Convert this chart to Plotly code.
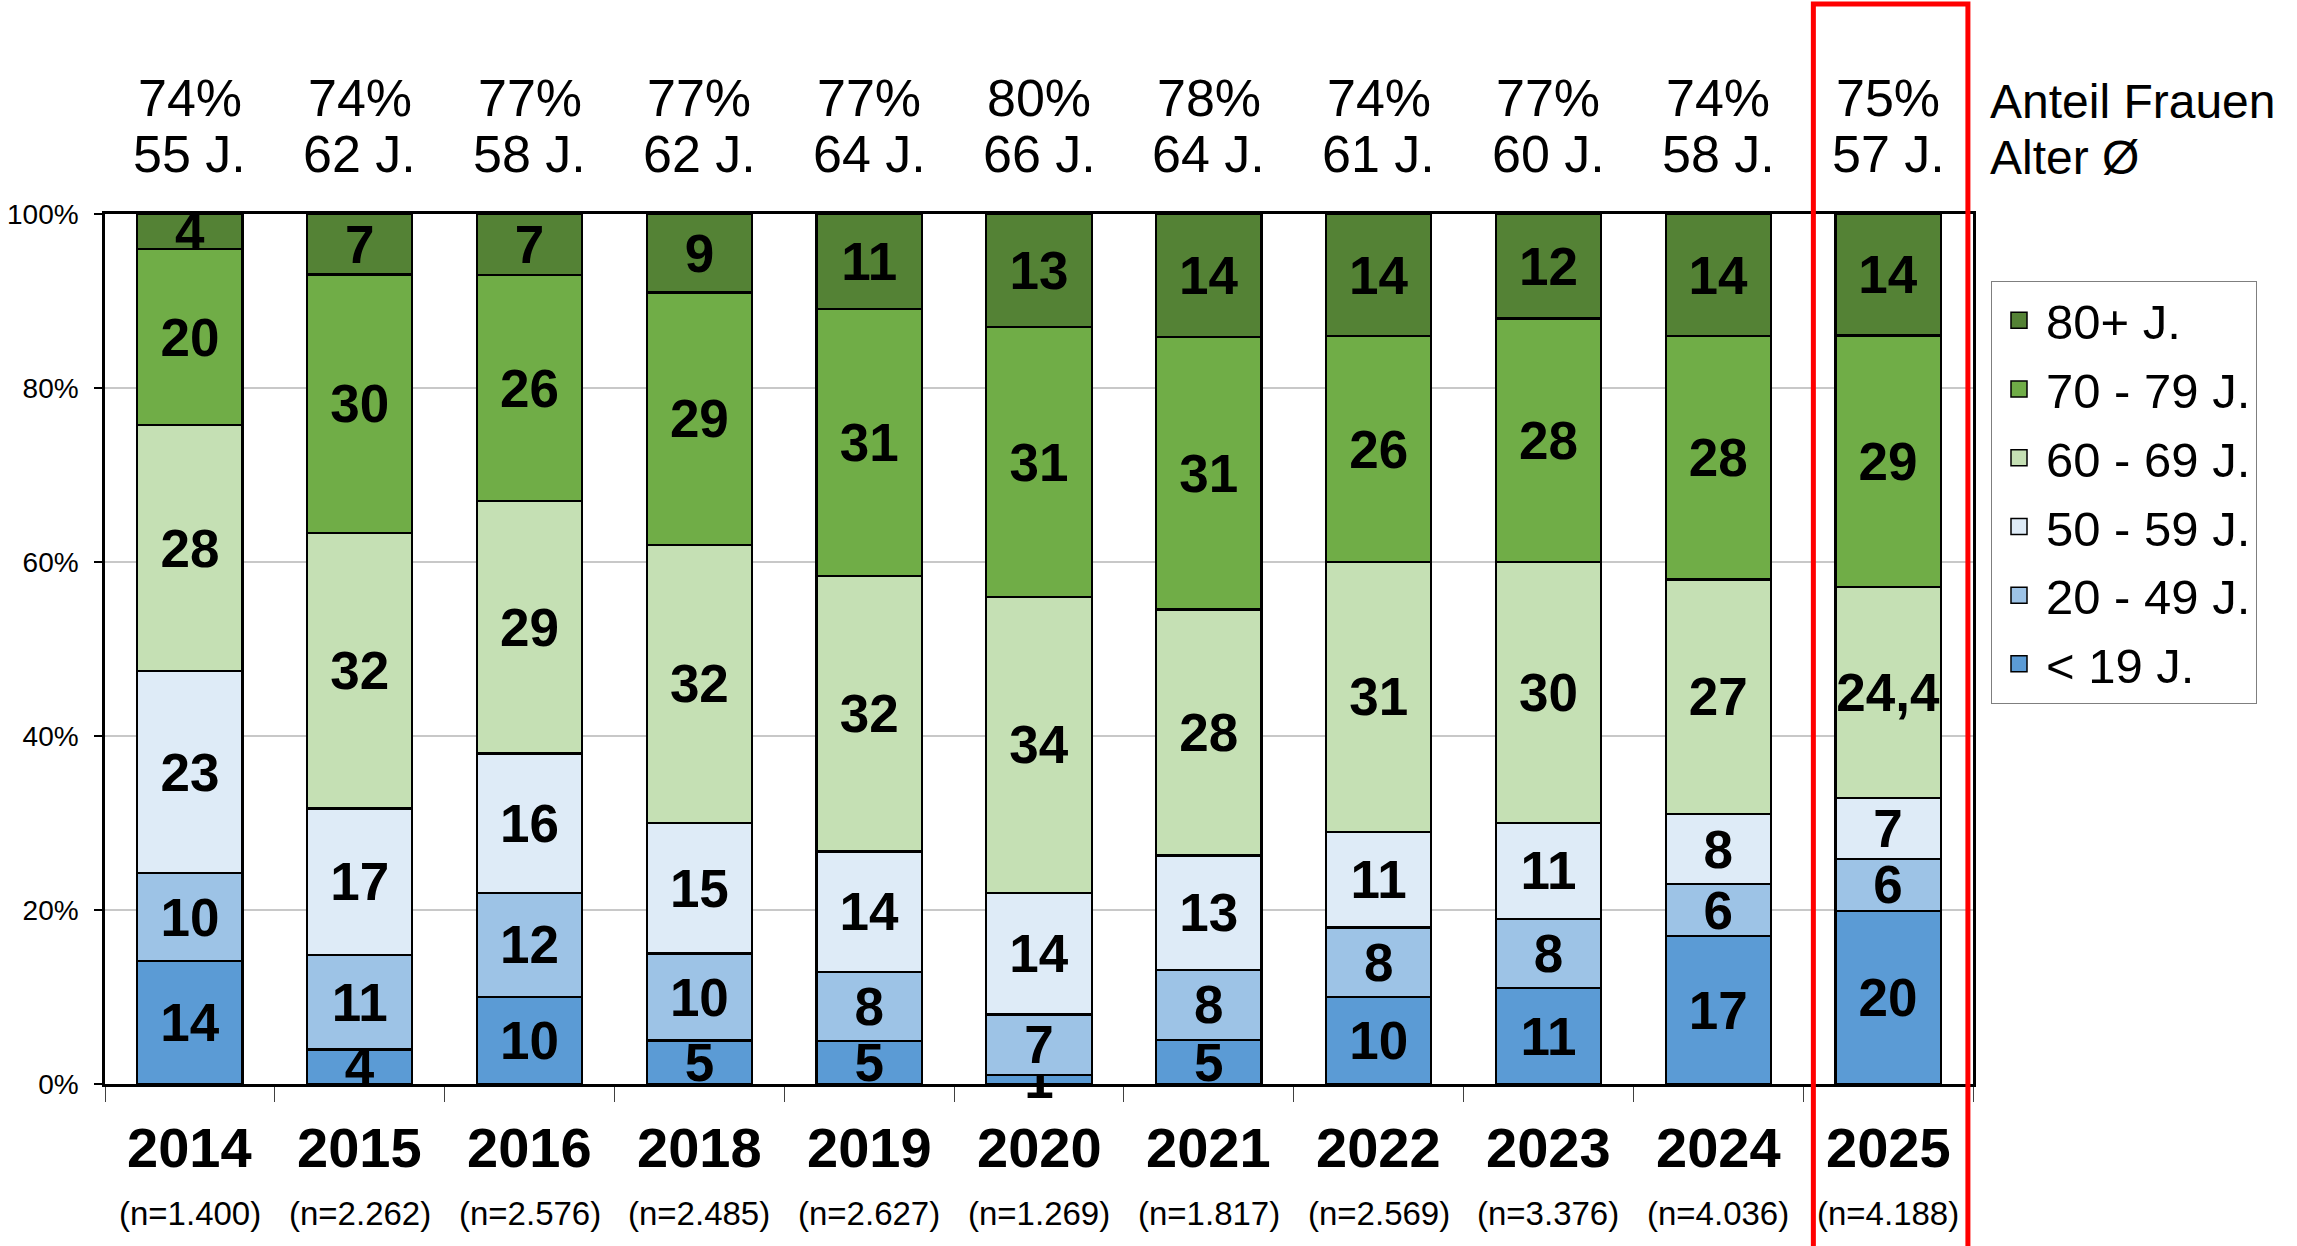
import plotly.graph_objects as go

# ---------------- data ----------------
years = ["2014", "2015", "2016", "2018", "2019", "2020", "2021", "2022", "2023", "2024", "2025"]
n_values = ["1.400", "2.262", "2.576", "2.485", "2.627", "1.269", "1.817", "2.569", "3.376", "4.036", "4.188"]
women_share = [74, 74, 77, 77, 77, 80, 78, 74, 77, 74, 75]
avg_age = [55, 62, 58, 62, 64, 66, 64, 61, 60, 58, 57]

age_under19 = [14, 4, 10, 5, 5, 1, 5, 10, 11, 17, 20]
age_20_49 = [10, 11, 12, 10, 8, 7, 8, 8, 8, 6, 6]
age_50_59 = [23, 17, 16, 15, 14, 14, 13, 11, 11, 8, 7]
age_60_69 = [28, 32, 29, 32, 32, 34, 28, 31, 30, 27, 24.4]
age_70_79 = [20, 30, 26, 29, 31, 31, 31, 26, 28, 28, 29]
age_80plus = [4, 7, 7, 9, 11, 13, 14, 14, 12, 14, 14]

series_names = ["< 19 J.", "20 - 49 J.", "50 - 59 J.", "60 - 69 J.", "70 - 79 J.", "80+ J."]
series_values = [age_under19, age_20_49, age_50_59, age_60_69, age_70_79, age_80plus]
series_colors = ["#5B9BD5", "#9DC3E6", "#DEEBF7", "#C5E0B4", "#70AD47", "#548235"]
highlight_year = "2025"
y_ticks = [0, 20, 40, 60, 80, 100]

NARROW = "Liberation Sans Narrow, Arial Narrow, Liberation Sans, Arial, sans-serif"
REG = "Liberation Sans, Arial, sans-serif"


def fmt(v):
    return f"{v:g}".replace(".", ",")


xidx = list(range(len(years)))

fig = go.Figure()
for k, (name, vals, col) in enumerate(zip(series_names, series_values, series_colors)):
    fig.add_trace(go.Bar(
        x=xidx, y=vals, name=name, showlegend=False,
        marker=dict(color=col, line=dict(color="black", width=2.2)),
        text=[fmt(v) for v in vals],
        textposition="inside", insidetextanchor="middle", textangle=0,
        textfont=dict(family=NARROW, size=53, color="black", weight="bold"),
        cliponaxis=False, hoverinfo="skip",
    ))
# legend proxies (80+ on top)
for k in reversed(range(len(series_names))):
    fig.add_trace(go.Scatter(
        x=[None], y=[None], name=series_names[k], mode="markers", legendgroup=f"g{k}",
        marker=dict(symbol="square", size=16, color=series_colors[k],
                    line=dict(color="black", width=1.5)),
        hoverinfo="skip",
    ))

W, H = 2297, 1246
L, R, T, B = 105, 2297 - 1973, 214, 1246 - 1084
ph = H - T - B
pw = W - L - R


def py(ypix):
    return (H - B - ypix) / ph


annotations = []
for i, yr in enumerate(years):
    annotations.append(dict(x=i, xref="x", y=py(98), yref="paper", text=f"{women_share[i]}%",
                            showarrow=False, yanchor="middle",
                            font=dict(family=NARROW, size=52, color="black")))
    annotations.append(dict(x=i, xref="x", y=py(154), yref="paper", text=f"{avg_age[i]} J.",
                            showarrow=False, yanchor="middle",
                            font=dict(family=NARROW, size=52, color="black")))
    annotations.append(dict(x=i, xref="x", y=py(1147), yref="paper", text=f"<b>{yr}</b>",
                            showarrow=False, yanchor="middle",
                            font=dict(family=NARROW, size=56, color="black")))
    annotations.append(dict(x=i, xref="x", y=py(1213), yref="paper", text=f"(n={n_values[i]})",
                            showarrow=False, yanchor="middle",
                            font=dict(family=NARROW, size=33, color="black")))

px = (1988 - L) / pw
annotations.append(dict(x=px, xref="paper", y=py(102), yref="paper", text="Anteil Frauen",
                        showarrow=False, xanchor="left", yanchor="middle",
                        font=dict(family=REG, size=48, color="black")))
annotations.append(dict(x=px, xref="paper", y=py(157), yref="paper", text="Alter Ø",
                        showarrow=False, xanchor="left", yanchor="middle",
                        font=dict(family=REG, size=48, color="black")))

hi = years.index(highlight_year)
shapes = [dict(type="rect", xref="x", yref="paper", x0=hi - 0.44, x1=hi + 0.47,
               y0=py(1252), y1=py(4), line=dict(color="#FF0000", width=5), layer="above")]

fig.update_layout(
    width=W, height=H,
    margin=dict(l=L, r=R, t=T, b=B, autoexpand=False),
    paper_bgcolor="white", plot_bgcolor="white",
    barmode="stack", barnorm="percent", bargap=0.38,
    uniformtext=dict(minsize=53, mode="show"),
    showlegend=True,
    legend=dict(x=(1991 - L) / pw, y=py(281), xanchor="left", yanchor="top",
                traceorder="grouped", bordercolor="#7F7F7F", borderwidth=1,
                font=dict(family=REG, size=49, color="black"), itemwidth=44,
                bgcolor="white", tracegroupgap=2),
    annotations=annotations, shapes=shapes,
    xaxis=dict(type="linear", range=[-0.5, len(years) - 0.5],
               tickvals=[i - 0.5 for i in range(len(years) + 1)],
               ticks="outside", ticklen=15,
               tickcolor="#404040", tickwidth=1, showticklabels=False,
               showline=True, linecolor="black", linewidth=2.5, mirror=True,
               showgrid=False, zeroline=False, fixedrange=True),
    yaxis=dict(range=[0, 100.02], tickvals=y_ticks, ticktext=[f"{v}%" for v in y_ticks],
               ticks="outside", ticklen=8, tickcolor="black", tickwidth=2,
               ticklabelstandoff=10,
               tickfont=dict(family=REG, size=28, color="black"),
               showgrid=True, gridcolor="#C8C8C8", gridwidth=1.5, zeroline=False,
               showline=True, linecolor="black", linewidth=2.5, mirror=True,
               fixedrange=True),
)

fig.write_html("out.html", config={"displayModeBar": False},
               post_script="document.body.style.margin='0';document.body.style.overflow='hidden';")
